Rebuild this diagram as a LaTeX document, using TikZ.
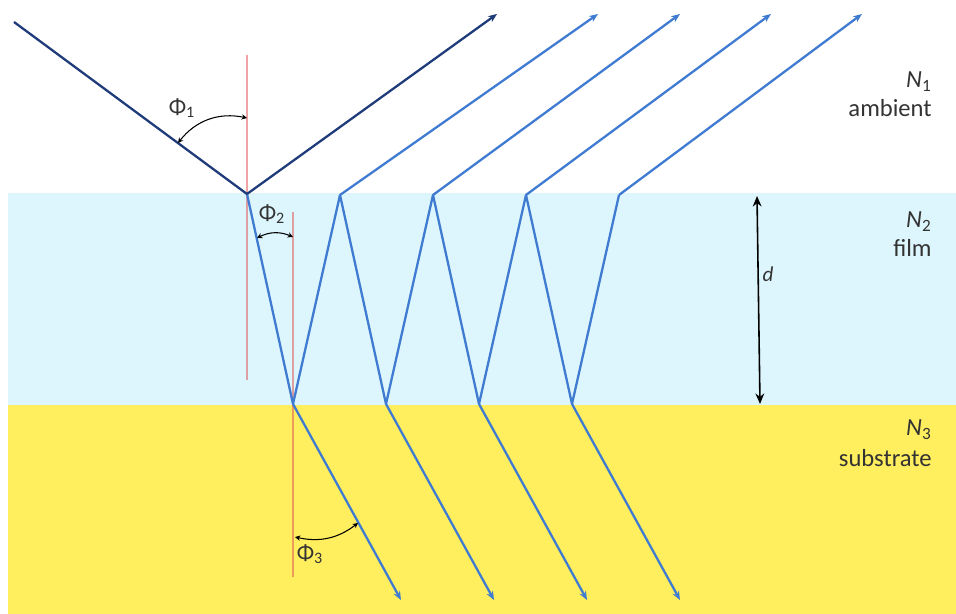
\documentclass[tikz,border=0pt]{standalone}
\usepackage{fontspec}
\setmainfont{Carlito}
\usetikzlibrary{arrows.meta}
\definecolor{Film}{HTML}{DDF5FC}
\definecolor{Substrate}{HTML}{FFEE5E}
\definecolor{RayDark}{HTML}{1F3B7A}
\definecolor{RayBlue}{HTML}{3F7BD0}
\definecolor{Normal}{HTML}{E05A5A}
\definecolor{Ink}{HTML}{333333}

\begin{document}
\begin{tikzpicture}[x=0.02cm,y=-0.02cm,
  ray/.style={RayBlue,line width=1.3pt,line join=round},
  rayfirst/.style={RayDark,line width=1.3pt,line join=round},
  raytip/.style={-{Stealth[length=5pt,width=4pt]}},
  normalline/.style={Normal,opacity=.55,line width=.6pt},
  anglearrow/.style={black,line width=.6pt,{Stealth[length=3pt,width=3pt]}-{Stealth[length=3pt,width=3pt]}},
  medium/.style={text=Ink,font=\fontsize{14}{16}\selectfont,anchor=east,inner sep=0pt}]
\useasboundingbox (0,0) rectangle (956,614);
% layers
\fill[Film] (8,193) rectangle (956,405);
\fill[Substrate] (8,405) rectangle (956,614);
% normals
\draw[normalline] (247,55) -- (247,380);
\draw[normalline] (293,212) -- (293,577);
% ray vertices
\coordinate (src) at (14,22);
\coordinate (t0) at (247,194);
\coordinate (t1) at (340,195);
\coordinate (t2) at (433,195);
\coordinate (t3) at (526,195);
\coordinate (t4) at (619,195);
\coordinate (b1) at (293,404);
\coordinate (b2) at (386,404);
\coordinate (b3) at (479,404);
\coordinate (b4) at (572,404);
\coordinate (o0) at (497,14);
\coordinate (o1) at (598,14);
\coordinate (o2) at (680,14);
\coordinate (o3) at (771,14);
\coordinate (o4) at (862,14);
% zigzag in the film
\draw[ray] (t0) -- (b1) -- (t1) -- (b2) -- (t2) -- (b3) -- (t3) -- (b4) -- (t4);
% incident and reflected rays
\draw[rayfirst] (src) -- (t0);
\draw[rayfirst,raytip] (t0) -- (o0);
\foreach \i in {1,...,4}
  \draw[ray,raytip] (t\i) -- (o\i);
% transmitted rays
\foreach \i in {1,...,4}
  \draw[ray,raytip] (b\i) -- ++(108,196);
% angles
\coordinate (phiA) at (178,143);
\coordinate (phiB) at (247,118);
\draw[anglearrow] (phiA) to[bend left=32] (phiB);
\node[text=Ink,font=\fontsize{13}{15}\selectfont] (phi1) at (182,108) {Φ\textsubscript{1}};
\coordinate (phiC) at (257,238);
\coordinate (phiD) at (293,237);
\draw[anglearrow] (phiC) to[bend left=25] (phiD);
\node[text=Ink,font=\fontsize{13}{15}\selectfont] (phi2) at (272,214) {Φ\textsubscript{2}};
\coordinate (phiE) at (295,537);
\coordinate (phiF) at (358,523);
\draw[anglearrow] (phiE) to[bend right=25] (phiF);
\node[text=Ink,font=\fontsize{13}{15}\selectfont] (phi3) at (310,554) {Φ\textsubscript{3}};
% film thickness
\coordinate (dtop) at (757,196);
\coordinate (dbot) at (760,404);
\draw[black,line width=.9pt,{Stealth[length=6pt,width=5pt]}-{Stealth[length=6pt,width=5pt]}] (dtop) -- (dbot);
\node[text=Ink,font=\fontsize{12}{14}\selectfont\itshape] (dlabel) at (768,274) {d};
% media labels
\node[medium] (n1) at (932,82) {\textit{N}\textsubscript{1}};
\node[medium] (amb) at (932,108) {ambient};
\node[medium] (n2) at (932,222) {\textit{N}\textsubscript{2}};
\node[medium] (film) at (932,248) {film};
\node[medium] (n3) at (932,430) {\textit{N}\textsubscript{3}};
\node[medium] (sub) at (932,458) {substrate};
\end{tikzpicture}
\end{document}
